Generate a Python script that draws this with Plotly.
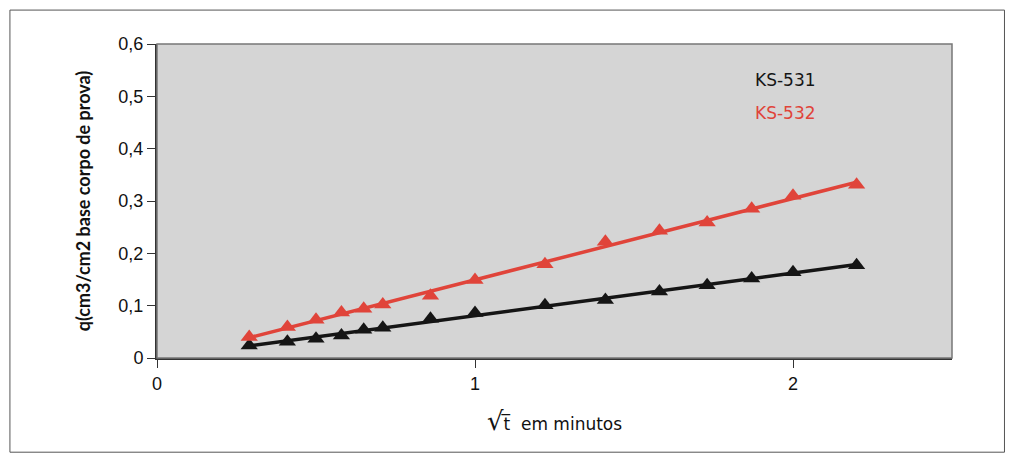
import numpy as np
import plotly.graph_objects as go

# sqrt(t) in minutes
x_vals = [0.29, 0.41, 0.50, 0.58, 0.65, 0.71, 0.86, 1.00, 1.22, 1.41, 1.58, 1.73, 1.87, 2.00, 2.20]
ks531 = [0.024, 0.031, 0.037, 0.043, 0.054, 0.058, 0.075, 0.086, 0.101, 0.111, 0.127, 0.139, 0.152, 0.164, 0.177]
ks532 = [0.040, 0.059, 0.073, 0.087, 0.094, 0.102, 0.119, 0.149, 0.179, 0.222, 0.243, 0.259, 0.285, 0.310, 0.331]
series_names = ["KS-531", "KS-532"]
series_colors = ["#151515", "#e0443a"]
x_ticks = [0, 1, 2]
y_ticks = [0, 0.1, 0.2, 0.3, 0.4, 0.5, 0.6]

fig = go.Figure()
for name, vals, col in zip(series_names, [ks531, ks532], series_colors):
    slope, icpt = np.polyfit(x_vals, vals, 1)
    xl = [min(x_vals), max(x_vals)]
    fig.add_trace(go.Scatter(x=xl, y=[slope * v + icpt for v in xl], mode="lines",
                             line=dict(color=col, width=3.5), showlegend=False, hoverinfo="skip"))
    fig.add_trace(go.Scatter(x=x_vals, y=vals, mode="markers", name=name,
                             marker=dict(symbol="triangle-up", size=15, color=col), showlegend=False))

tick_font = dict(family="Liberation Sans, Arial, sans-serif", size=18, color="#111")
fig.update_layout(
    width=997, height=445,
    margin=dict(l=149, r=53, t=36, b=95),
    paper_bgcolor="white", plot_bgcolor="#d5d5d5",
    separators=", ",
    xaxis=dict(range=[0, 2.5], tickvals=x_ticks, ticks="outside", ticklen=8, tickcolor="#333",
               showgrid=False, zeroline=False, showline=True, linecolor="#333", linewidth=2,
               tickfont=tick_font,
               title=dict(text="<span style='font-size:26px'>√</span>t̅  em minutos", standoff=26,
                          font=dict(family="DejaVu Sans, Lato, sans-serif", size=17, color="#111"))),
    yaxis=dict(range=[0, 0.6], tickvals=y_ticks, tickformat=".1~f", ticks="outside", ticklen=8, tickcolor="#333",
               showgrid=False, zeroline=False, showline=True, linecolor="#333", linewidth=2,
               tickfont=tick_font,
               title=dict(text="<b>q(cm3/cm2 base corpo de prova)</b>", standoff=23,
                          font=dict(family="Lato, DejaVu Sans, sans-serif", size=18, color="#111"))),
    shapes=[
        dict(type="rect", xref="paper", yref="paper", x0=0, x1=1, y0=0, y1=1,
             line=dict(color="#777", width=1.5), fillcolor="rgba(0,0,0,0)", layer="above"),
        dict(type="rect", xref="paper", yref="paper", x0=-0.185, x1=1.066, y0=-0.30, y1=1.108,
             line=dict(color="#555", width=1), fillcolor="rgba(0,0,0,0)"),
    ],
    annotations=[
        dict(text=series_names[0], xref="paper", yref="paper", x=0.79, y=0.885, showarrow=False,
             xanchor="center", yanchor="middle",
             font=dict(family="DejaVu Sans, Verdana, sans-serif", size=17, color=series_colors[0])),
        dict(text=series_names[1], xref="paper", yref="paper", x=0.79, y=0.78, showarrow=False,
             xanchor="center", yanchor="middle",
             font=dict(family="DejaVu Sans, Verdana, sans-serif", size=17, color=series_colors[1])),
    ],
)
fig.write_html("out.html")
